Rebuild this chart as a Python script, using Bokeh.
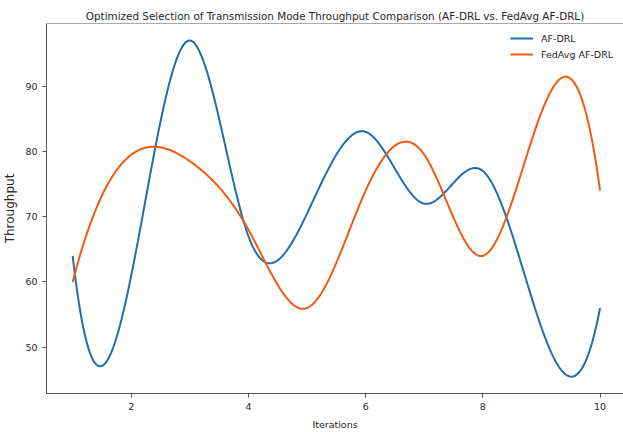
import numpy as np
from bokeh.plotting import figure
from bokeh.models import Range1d, Legend, LegendItem, Span, FixedTicker
from bokeh.embed import file_html
from bokeh.resources import INLINE

# ---- data ----
iterations = [1, 2, 3, 4, 5, 6, 7, 8, 9, 10]
af_drl = [64, 61, 97, 67, 70.5, 83, 72, 77, 53, 56]
fedavg_af_drl = [60, 79.5, 78.5, 68, 56, 74, 79.5, 64, 86, 74]
x_ticks = [2, 4, 6, 8, 10]
y_ticks = [50, 60, 70, 80, 90]
title_text = "Optimized Selection of Transmission Mode Throughput Comparison (AF-DRL vs. FedAvg AF-DRL)"


def smooth(xs, ys, n=400):
    """Not-a-knot cubic spline through the data points (curve rendering)."""
    x = np.asarray(xs, float)
    y = np.asarray(ys, float)
    m = len(x)
    h = np.diff(x)
    A = np.zeros((m, m))
    b = np.zeros(m)
    A[0, 0], A[0, 1], A[0, 2] = h[1], -(h[0] + h[1]), h[0]
    A[-1, -3], A[-1, -2], A[-1, -1] = h[-1], -(h[-2] + h[-1]), h[-2]
    for i in range(1, m - 1):
        A[i, i - 1] = h[i - 1]
        A[i, i] = 2 * (h[i - 1] + h[i])
        A[i, i + 1] = h[i]
        b[i] = 6 * ((y[i + 1] - y[i]) / h[i] - (y[i] - y[i - 1]) / h[i - 1])
    M = np.linalg.solve(A, b)
    xs_f = np.linspace(x[0], x[-1], n)
    idx = np.clip(np.searchsorted(x, xs_f) - 1, 0, m - 2)
    x0, x1 = x[idx], x[idx + 1]
    hh = x1 - x0
    y0, y1 = y[idx], y[idx + 1]
    M0, M1 = M[idx], M[idx + 1]
    ys_f = (M0 * (x1 - xs_f) ** 3 / (6 * hh) + M1 * (xs_f - x0) ** 3 / (6 * hh)
            + (y0 - M0 * hh ** 2 / 6) * (x1 - xs_f) / hh
            + (y1 - M1 * hh ** 2 / 6) * (xs_f - x0) / hh)
    return xs_f, ys_f


FONT = "DejaVu Sans"
TXT = "#262626"
AX = "#555555"

p = figure(width=623, height=432, output_backend="svg", toolbar_location=None,
           x_range=Range1d(0.5535, 10.40), y_range=Range1d(42.90, 99.61),
           min_border_left=43, min_border_right=0, min_border_top=23, min_border_bottom=39,
           background_fill_color="white", border_fill_color="white")

p.title.text = title_text
p.title.text_font = FONT
p.title.text_font_size = "10.4px"
p.title.text_font_style = "normal"
p.title.text_color = TXT
p.title.align = "center"
p.title.vertical_align = "middle"
p.title.standoff = 2

p.outline_line_color = None
p.xgrid.visible = False
p.ygrid.visible = False

for ax in (p.xaxis[0], p.yaxis[0]):
    ax.axis_line_color = AX
    ax.major_tick_line_color = AX
    ax.minor_tick_line_color = None
    ax.major_tick_in = 0
    ax.major_tick_out = 4
    ax.major_label_text_font = FONT
    ax.major_label_text_font_size = "9.5px"
    ax.major_label_text_color = TXT
    ax.major_label_standoff = 5
    ax.axis_label_text_font = FONT
    ax.axis_label_text_font_style = "normal"
    ax.axis_label_text_color = TXT

p.xaxis.ticker = FixedTicker(ticks=x_ticks)
p.yaxis.ticker = FixedTicker(ticks=y_ticks)
p.xaxis.axis_label = "Iterations"
p.yaxis.axis_label = "Throughput"
p.xaxis.axis_label_text_font_size = "9.5px"
p.yaxis.axis_label_text_font_size = "12px"
p.xaxis.axis_label_standoff = 6
p.yaxis.axis_label_standoff = 5

# top spine
p.add_layout(Span(location=99.61, dimension="width", line_color=AX, line_width=1))

bx, by = smooth(iterations, af_drl)
ox, oy = smooth(iterations, fedavg_af_drl)
r1 = p.line(bx, by, line_color="#1f6eb0", line_width=2)
r2 = p.line(ox, oy, line_color="#f25a12", line_width=2)

legend = Legend(items=[LegendItem(label="AF-DRL", renderers=[r1]),
                       LegendItem(label="FedAvg AF-DRL", renderers=[r2])],
                location=(464, 331), padding=0, spacing=0, margin=0,
                glyph_width=23, glyph_height=16, label_height=16, label_standoff=8,
                label_text_font=FONT, label_text_font_size="9.5px", label_text_color=TXT,
                border_line_color=None, background_fill_alpha=0)
p.add_layout(legend)

open("out.html", "w").write(file_html(p, INLINE))
